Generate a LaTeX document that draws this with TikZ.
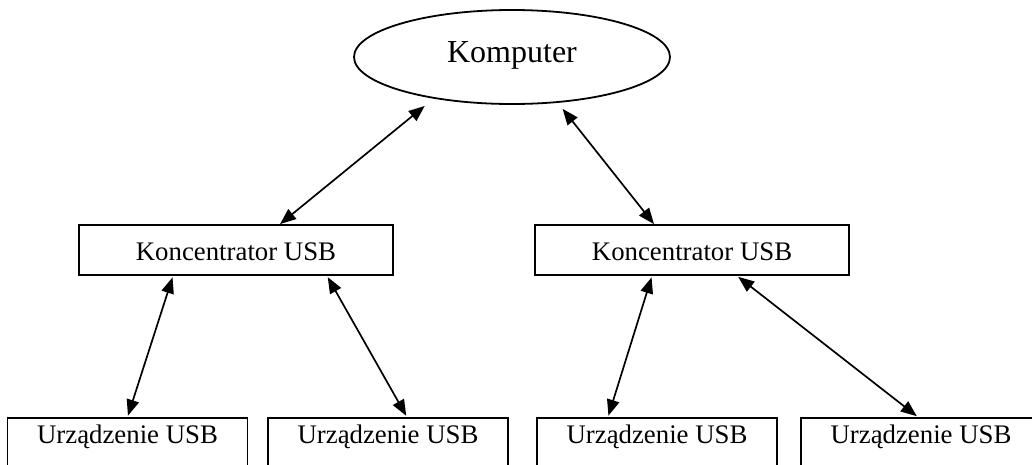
\documentclass[tikz,border=0pt]{standalone}
\usepackage{fontspec}
\setmainfont{Liberation Serif}
\usetikzlibrary{arrows.meta,shapes.geometric}
\begin{document}
\begin{tikzpicture}[x=1pt,y=-1pt,
  box/.style={draw, line width=1.8pt, rectangle, inner sep=0pt, font=\fontsize{26.8}{30}\selectfont},
  hubbox/.style={box, minimum width=314pt, minimum height=50pt, text height=20pt, text depth=0pt},
  devbox/.style={box, minimum width=240pt, minimum height=52pt, text height=18pt, text depth=20pt},
  link/.style={line width=1.7pt, {Triangle[length=16pt,width=12.5pt]}-{Triangle[length=16pt,width=12.5pt]}}]
\useasboundingbox (0,0) rectangle (1032,464);
\node[draw, ellipse, line width=1.8pt, minimum width=316pt, minimum height=94pt, inner sep=0pt,
  font=\fontsize{32}{36}\selectfont, text height=22pt, text depth=12pt] (komp) at (512,57) {Komputer};
\node[hubbox] (hubL) at (236,250) {Koncentrator USB};
\node[hubbox] (hubR) at (692,250) {Koncentrator USB};
\node[devbox] (dev1) at (127.5,444) {Urządzenie USB};
\node[devbox] (dev2) at (388,444) {Urządzenie USB};
\node[devbox] (dev3) at (657,444) {Urządzenie USB};
\node[devbox] (dev4) at (921,444) {Urządzenie USB};
\draw[link, shorten <=11.5pt] (komp.208) -- ([xshift=44pt]hubL.north);
\draw[link, shorten <=7.7pt] (komp.-45) -- ([xshift=-38pt]hubR.north);
\draw[link, shorten <=1.5pt, shorten >=1.5pt] ([xshift=-63pt]hubL.south) -- (dev1.north);
\draw[link, shorten <=1.5pt, shorten >=1.5pt] ([xshift=91pt]hubL.south) -- ([xshift=19pt]dev2.north);
\draw[link, shorten <=1.5pt, shorten >=1.5pt] ([xshift=-40pt]hubR.south) -- ([xshift=-49pt]dev3.north);
\draw[link, shorten <=1.5pt, shorten >=1.5pt] ([xshift=45pt]hubR.south) -- ([xshift=-3pt]dev4.north);
\end{tikzpicture}
\end{document}
